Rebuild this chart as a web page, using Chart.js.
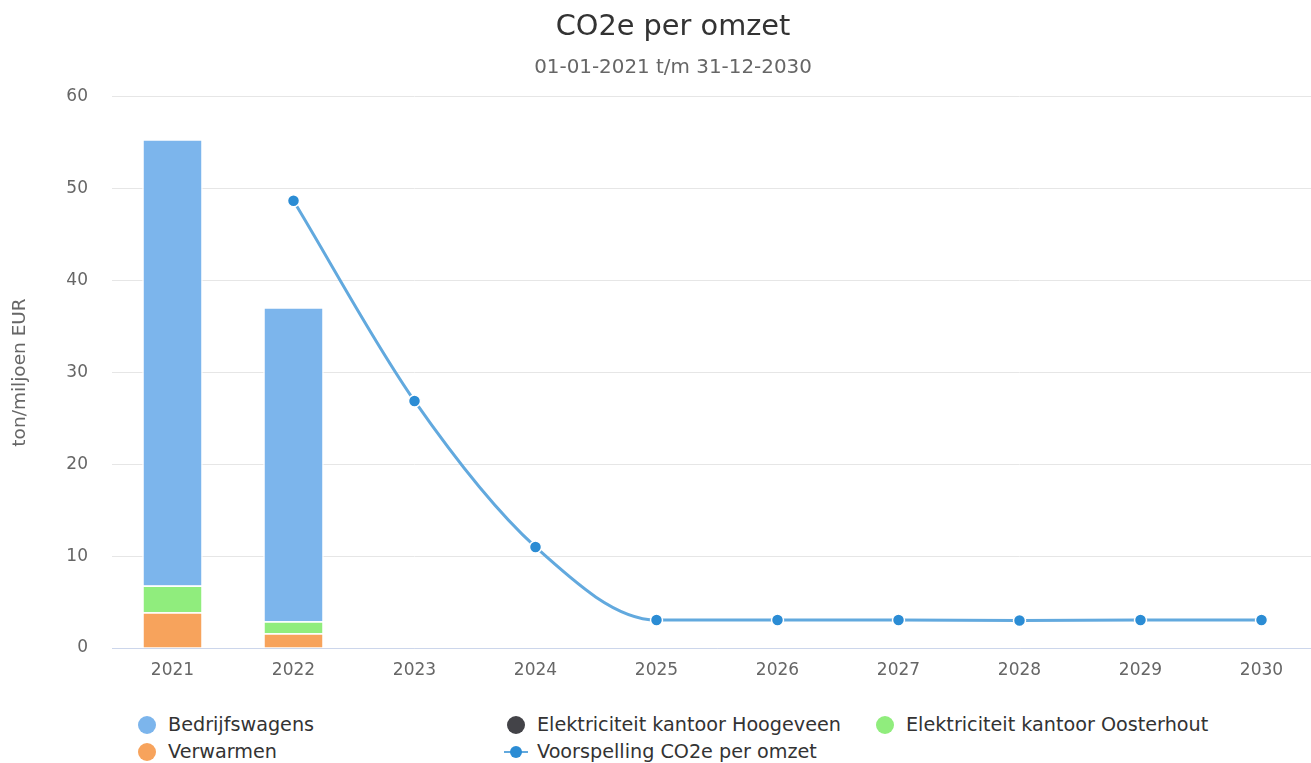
<!DOCTYPE html>
<html lang="nl">
<head>
<meta charset="utf-8">
<title>CO2e per omzet</title>
<script src="https://cdn.jsdelivr.net/npm/chart.js@4.4.1/dist/chart.umd.min.js"></script>
<style>
  html, body { margin: 0; padding: 0; background: #fff; overflow: hidden; }
  #wrap { position: relative; width: 1346px; height: 763px; font-family: "DejaVu Sans", Verdana, sans-serif; }
  #chart { position: absolute; left: 0; top: 0; }
  #legend {
    position: absolute; left: 135px; top: 711px;
    display: grid; grid-template-columns: 369px 369px 369px; grid-auto-rows: 27px;
    font-size: 19.2px; color: #333;
  }
  .item { display: flex; align-items: center; white-space: nowrap; }
  .sym { position: relative; width: 24px; height: 20px; margin-right: 9px; flex: none; }
  .dot { position: absolute; left: 3px; top: 1px; width: 18px; height: 18px; border-radius: 50%; }
  .ln { position: absolute; left: 0; top: 9px; width: 24px; height: 2px; }
  .mk { position: absolute; left: 6px; top: 4px; width: 12px; height: 12px; border-radius: 50%; }
</style>
</head>
<body>
<div id="wrap">
  <canvas id="chart" width="1346" height="700"></canvas>
  <div id="legend"></div>
</div>
<script>
const years = ['2021', '2022', '2023', '2024', '2025', '2026', '2027', '2028', '2029', '2030']
const yTicks = [0, 10, 20, 30, 40, 50, 60]

// ton CO2e per miljoen EUR omzet
const bedrijfswagens = [48.6, 34.2, null, null, null, null, null, null, null, null]
const hoogeveen = [0, 0, null, null, null, null, null, null, null, null]
const oosterhout = [2.9, 1.3, null, null, null, null, null, null, null, null]
const verwarmen = [3.9, 1.6, null, null, null, null, null, null, null, null]
const voorspelling = [null, 48.7, 26.9, 11.0, 3.05, 3.05, 3.05, 3.0, 3.05, 3.05]

const barStyle = {
    type: 'bar',
    stack: 'co2',
    order: 1,
    borderColor: '#ffffff',
    borderWidth: 1.5,
    barPercentage: 0.51,
    categoryPercentage: 0.98
}

// bars stack bottom-up in dataset order
const datasets = [
    { ...barStyle, label: 'Verwarmen', data: verwarmen, backgroundColor: '#f7a35c' },
    { ...barStyle, label: 'Elektriciteit kantoor Oosterhout', data: oosterhout, backgroundColor: '#90ed7d' },
    { ...barStyle, label: 'Elektriciteit kantoor Hoogeveen', data: hoogeveen, backgroundColor: '#434348' },
    { ...barStyle, label: 'Bedrijfswagens', data: bedrijfswagens, backgroundColor: '#7cb5ec' },
    {
        type: 'line',
        label: 'Voorspelling CO2e per omzet',
        data: voorspelling,
        stack: 'forecast',
        order: 0,
        borderColor: '#62a9de',
        backgroundColor: '#2b8cd4',
        borderWidth: 3,
        cubicInterpolationMode: 'monotone',
        pointRadius: 6,
        pointHoverRadius: 6,
        pointBackgroundColor: '#2b8cd4',
        pointBorderColor: '#ffffff',
        pointBorderWidth: 1.5
    }
]

const config = {
    type: 'bar',
    data: { labels: years, datasets: datasets },
    options: {
        responsive: false,
        animation: false,
        // equal side padding keeps the title centred on the full width
        layout: { padding: { top: 0, right: 24, bottom: 0, left: 24 } },
        plugins: {
            legend: { display: false },
            tooltip: { enabled: false },
            title: {
                display: true,
                text: 'CO2e per omzet',
                color: '#333333',
                font: { family: 'DejaVu Sans', size: 28.8, weight: 'normal' },
                padding: { top: 10, bottom: 11 }
            },
            subtitle: {
                display: true,
                text: '01-01-2021 t/m 31-12-2030',
                color: '#666666',
                font: { family: 'DejaVu Sans', size: 19.9, weight: 'normal' },
                padding: { top: 0, bottom: 17.5 }
            }
        },
        scales: {
            x: {
                stacked: true,
                grid: { display: false, drawTicks: false },
                border: { display: true, color: '#ccd6eb', width: 1 },
                ticks: { color: '#666666', padding: 12, font: { family: 'DejaVu Sans', size: 17 } },
                afterFit: (scale) => { scale.height = 52 }
            },
            y: {
                stacked: true,
                min: 0,
                max: 60,
                afterBuildTicks: (scale) => { scale.ticks = yTicks.map(v => ({ value: v })) },
                grid: { color: '#e6e6e6', drawTicks: false },
                border: { display: false },
                ticks: { color: '#666666', padding: 24, font: { family: 'DejaVu Sans', size: 17 } },
                title: {
                    display: true,
                    text: 'ton/miljoen EUR',
                    color: '#666666',
                    font: { family: 'DejaVu Sans', size: 18.5 },
                    padding: { top: -15, bottom: 0 }
                },
                afterFit: (scale) => { scale.width = 88 }
            }
        }
    }
}

const chart = new Chart(document.getElementById('chart'), config)

// legend in rows of three, same order as the series list
const legendOrder = [3, 2, 1, 0, 4]
const legendEl = document.getElementById('legend')
legendOrder.forEach((i) => {
    const ds = chart.data.datasets[i]
    const item = document.createElement('div')
    item.className = 'item'
    const sym = document.createElement('span')
    sym.className = 'sym'
    if (ds.type === 'line') {
        sym.innerHTML = '<span class="ln" style="background:' + ds.borderColor + '"></span>' +
            '<span class="mk" style="background:' + ds.pointBackgroundColor + '"></span>'
    } else {
        sym.innerHTML = '<span class="dot" style="background:' + ds.backgroundColor + '"></span>'
    }
    const txt = document.createElement('span')
    txt.textContent = ds.label
    item.appendChild(sym)
    item.appendChild(txt)
    legendEl.appendChild(item)
})
</script>
</body>
</html>
